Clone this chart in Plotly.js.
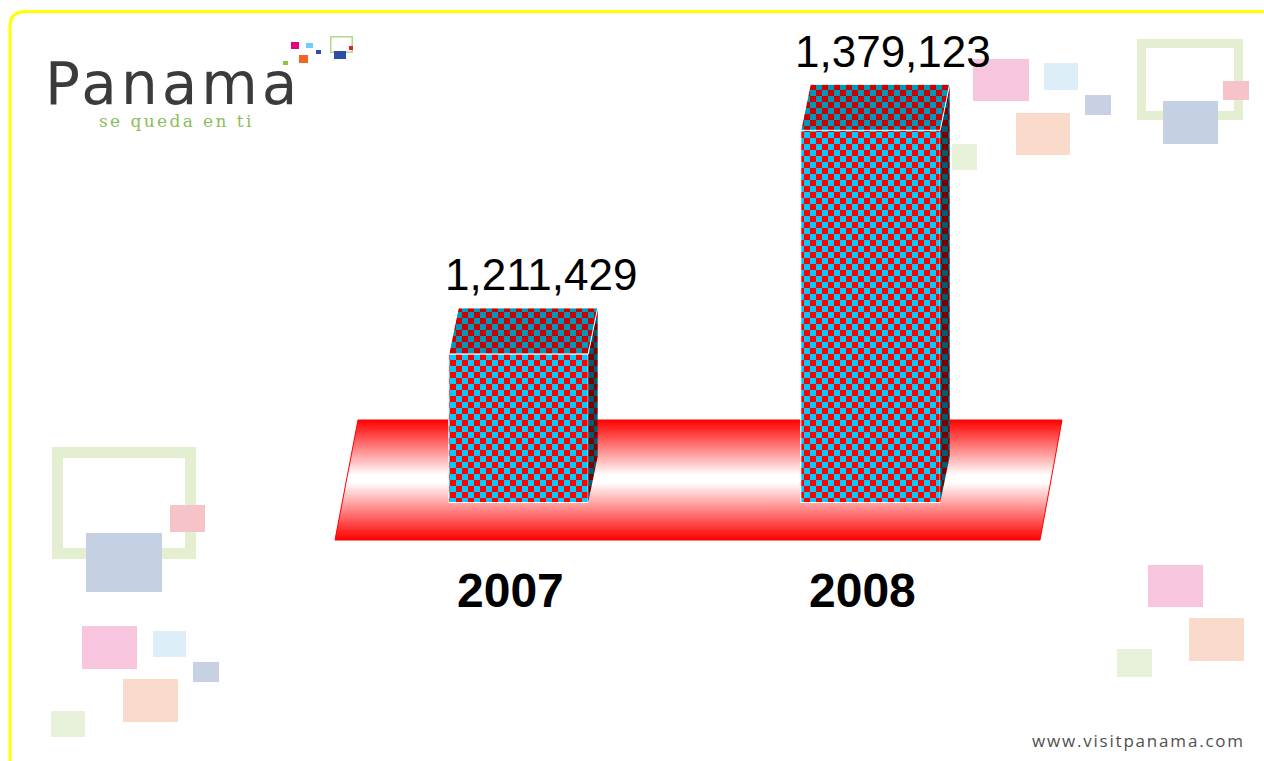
<!DOCTYPE html>
<html><head><meta charset="utf-8">
<script src="https://cdn.plot.ly/plotly-3.0.1.min.js"></script>
<style>html,body{margin:0;padding:0;background:#fff;overflow:hidden}#chart{width:1264px;height:761px}</style>
</head><body><div id="chart"></div>
<script>
// ---- data ----
const categories = ["2007", "2008"];
const visitors = [1211429, 1379123];
const valueLabels = visitors.map(v => v.toLocaleString('en-US'));

// ---- layout constants ----
const W = 1264, H = 761;
const AXIS_BASE = 1100000;      // axis value at the bars' bottom edge
const UNITS_PER_PX = 750;
const PX_PER_CAT = 352;
const FIRST_CENTER_PX = 518.5;
const BASE_PX = 502.5;
const BAR_WIDTH = 0.396;
const DEPTH_X = 9.5, DEPTH_Y = 46;

const xRange = [-FIRST_CENTER_PX / PX_PER_CAT, (W - FIRST_CENTER_PX) / PX_PER_CAT];
const yRange = [AXIS_BASE - (H - BASE_PX) * UNITS_PER_PX, AXIS_BASE + BASE_PX * UNITS_PER_PX];
const xIdx = categories.map((c, i) => i);
const halfPx = BAR_WIDTH * PX_PER_CAT / 2;

function px(x) { return x / W; }
function py(y) { return 1 - y / H; }
function rectShape(x0, y0, x1, y1, color) {
  return {type: 'rect', xref: 'paper', yref: 'paper', x0: px(x0), x1: px(x1), y0: py(y1), y1: py(y0),
    fillcolor: color, line: {width: 0}, layer: 'below'};
}
function frameShape(x0, y0, x1, y1, t, color) {
  return {type: 'rect', xref: 'paper', yref: 'paper', x0: px(x0 + t / 2), x1: px(x1 - t / 2),
    y0: py(y1 - t / 2), y1: py(y0 + t / 2), fillcolor: 'rgba(0,0,0,0)', line: {width: t, color: color}, layer: 'below'};
}

const PINK = 'rgb(247,197,222)', LBLUE = 'rgb(221,238,248)', SLATE = 'rgb(200,209,228)',
      PEACH = 'rgb(250,218,202)', LGREEN = 'rgb(232,242,218)', FGREEN = 'rgb(228,239,210)',
      LRED = 'rgb(245,195,200)', BBLUE = 'rgb(198,208,227)';

const shapes = [];
// slide border
shapes.push({type: 'path', xref: 'paper', yref: 'paper', layer: 'below',
  path: `M ${px(10)},${py(800)} L ${px(10)},${py(27)} Q ${px(10)},${py(11.5)} ${px(26)},${py(11.5)} L ${px(1300)},${py(11.5)}`,
  fillcolor: 'rgba(0,0,0,0)', line: {color: '#FFFF00', width: 3}});
// decorations top right
shapes.push(frameShape(1137, 39, 1243, 120, 9, FGREEN));
shapes.push(rectShape(973, 59, 1029, 101, PINK));
shapes.push(rectShape(1044, 63, 1078, 90, LBLUE));
shapes.push(rectShape(1085, 95, 1111, 115, SLATE));
shapes.push(rectShape(1016, 113, 1070, 155, PEACH));
shapes.push(rectShape(952, 144, 977, 170, LGREEN));
shapes.push(rectShape(1223, 81, 1249, 100, LRED));
shapes.push(rectShape(1163, 101, 1218, 144, BBLUE));
// decorations bottom left
shapes.push(frameShape(52, 447, 196, 559, 11, FGREEN));
shapes.push(rectShape(170, 505, 205, 532, LRED));
shapes.push(rectShape(86, 533, 162, 592, BBLUE));
shapes.push(rectShape(82, 626, 137, 669, PINK));
shapes.push(rectShape(153, 631, 186, 657, LBLUE));
shapes.push(rectShape(193, 662, 219, 682, SLATE));
shapes.push(rectShape(123, 679, 178, 722, PEACH));
shapes.push(rectShape(51, 711, 85, 737, LGREEN));
// decorations bottom right
shapes.push(rectShape(1148, 565, 1203, 607, PINK));
shapes.push(rectShape(1189, 618, 1244, 661, PEACH));
shapes.push(rectShape(1117, 649, 1152, 677, LGREEN));
// logo squares
shapes.push(rectShape(291, 42, 299, 49, '#E6007E'));
shapes.push(rectShape(306, 43, 313, 48, '#6DCFF6'));
shapes.push(rectShape(316, 50, 321, 54, '#2E4DA7'));
shapes.push(rectShape(299, 55, 308, 63, '#F26522'));
shapes.push(rectShape(283, 61, 288, 65, '#8DC63F'));
shapes.push(frameShape(330, 36, 353, 53, 1.5, '#B5D88A'));
shapes.push(rectShape(334, 51, 346, 59, '#2E4DA7'));
shapes.push(rectShape(349, 46, 353, 50, '#ED1C24'));
// floor band
const BAND_INDEX = shapes.length;
shapes.push({type: 'path', xref: 'paper', yref: 'paper', layer: 'below',
  path: `M ${px(358)},${py(420)} L ${px(1062)},${py(420)} L ${px(1040)},${py(540)} L ${px(335)},${py(540)} Z`,
  fillcolor: '#ff8080', line: {color: '#ff0000', width: 1}});
// 3D faces of the bars
const TOP_INDEX = [], SIDE_INDEX = [];
xIdx.forEach((xi, i) => {
  const v = visitors[i];
  const dyU = DEPTH_Y * UNITS_PER_PX;
  SIDE_INDEX.push(shapes.length);
  shapes.push({type: 'path', xref: 'x', yref: 'y', xsizemode: 'pixel', xanchor: xi, layer: 'above',
    path: `M ${halfPx},${AXIS_BASE} L ${halfPx},${v} L ${halfPx + DEPTH_X},${v + dyU} L ${halfPx + DEPTH_X},${AXIS_BASE + dyU} Z`,
    fillcolor: '#600000', line: {width: 0}});
  TOP_INDEX.push(shapes.length);
  shapes.push({type: 'path', xref: 'x', yref: 'y', xsizemode: 'pixel', ysizemode: 'pixel',
    xanchor: xi, yanchor: v, layer: 'above',
    path: `M ${-halfPx},0 L ${halfPx},0 L ${halfPx + DEPTH_X},${DEPTH_Y} L ${-halfPx + DEPTH_X},${DEPTH_Y} Z`,
    fillcolor: '#aa0000', line: {color: '#ffffff', width: 1}});
});

const FONT = 'Liberation Sans, Arial, sans-serif';
const annotations = [];
xIdx.forEach((xi, i) => {
  annotations.push({x: xi, y: visitors[i], xref: 'x', yref: 'y', text: valueLabels[i], showarrow: false,
    xanchor: 'center', yanchor: 'middle', xshift: 22, yshift: 79,
    font: {family: FONT, size: 44, color: '#000'}});
  annotations.push({x: xi, y: py(590), xref: 'x', yref: 'paper', text: '<b>' + categories[i] + '</b>', showarrow: false,
    xanchor: 'center', yanchor: 'middle', xshift: -8,
    font: {family: FONT, size: 48, color: '#000'}});
});
annotations.push({x: px(43), y: py(84), xref: 'paper', yref: 'paper', xanchor: 'left', yanchor: 'middle', showarrow: false,
  text: '<span style="letter-spacing:4px">Panama</span>', font: {family: 'DejaVu Sans, sans-serif', size: 58, color: '#3b3b3b'}});
annotations.push({x: px(97), y: py(121), xref: 'paper', yref: 'paper', xanchor: 'left', yanchor: 'middle', showarrow: false,
  text: '<span style="letter-spacing:2.4px">se queda en ti</span>', font: {family: 'DejaVu Serif, serif', size: 17, color: '#8cbd5c'}});
annotations.push({x: px(1247), y: py(740), xref: 'paper', yref: 'paper', xanchor: 'right', yanchor: 'middle', showarrow: false,
  text: '<span style="letter-spacing:1.8px">www.visitpanama.com</span>', font: {family: 'Open Sans, sans-serif', size: 17, color: '#505050'}});

const data = [{
  type: 'bar', x: xIdx, y: visitors.map(v => v - AXIS_BASE), base: AXIS_BASE, width: BAR_WIDTH,
  marker: {color: '#ff0000', line: {color: '#ffffff', width: 1}}, hoverinfo: 'none'
}];

const layout = {
  width: W, height: H, margin: {l: 0, r: 0, t: 0, b: 0, pad: 0},
  paper_bgcolor: '#ffffff', plot_bgcolor: 'rgba(0,0,0,0)', showlegend: false,
  xaxis: {type: 'linear', range: xRange, visible: false, fixedrange: true},
  yaxis: {type: 'linear', range: yRange, visible: false, fixedrange: true},
  shapes: shapes, annotations: annotations
};

const gd = document.getElementById('chart');
const NS = 'http://www.w3.org/2000/svg';
function el(tag, attrs) { const e = document.createElementNS(NS, tag); for (const k in attrs) e.setAttribute(k, attrs[k]); return e; }
function checker(id, c1, c2, s) {
  const p = el('pattern', {id: id, patternUnits: 'userSpaceOnUse', width: 2 * s, height: 2 * s});
  const r = (x, y, w, h, f) => el('rect', {x: x, y: y, width: w, height: h, fill: f, 'shape-rendering': 'crispEdges'});
  p.appendChild(r(0, 0, 2 * s, 2 * s, c1));
  p.appendChild(r(0, 0, s, s, c2));
  p.appendChild(r(s, s, s, s, c2));
  return p;
}
Plotly.newPlot(gd, data, layout, {staticPlot: true, displayModeBar: false}).then(() => {
  const svg = gd.querySelector('svg.main-svg');
  let defs = svg.querySelector('defs');
  if (!defs) { defs = el('defs', {}); svg.insertBefore(defs, svg.firstChild); }
  defs.appendChild(checker('chkFront', '#ff0000', '#00ccff', 6));
  defs.appendChild(checker('chkTop', '#c80000', '#0099bb', 6));
  defs.appendChild(checker('chkSide', '#7a0000', '#005d72', 6));
  const g = el('linearGradient', {id: 'bandGrad', x1: 0, y1: 0, x2: 0, y2: 1});
  [[0, '#ff0000'], [0.46, '#ffffff'], [0.52, '#ffffff'], [1, '#ff0000']].forEach(s => g.appendChild(el('stop', {offset: s[0], 'stop-color': s[1]})));
  defs.appendChild(g);
  gd.querySelectorAll('.trace.bars .point path').forEach(p => { p.style.fill = 'url(#chkFront)'; });
  const setFill = (idx, f) => gd.querySelectorAll(`.shapelayer path[data-index="${idx}"]`).forEach(p => { p.style.fill = f; p.style.fillOpacity = 1; });
  setFill(BAND_INDEX, 'url(#bandGrad)');
  TOP_INDEX.forEach(k => setFill(k, 'url(#chkTop)'));
  SIDE_INDEX.forEach(k => setFill(k, 'url(#chkSide)'));
});
</script></body></html>
